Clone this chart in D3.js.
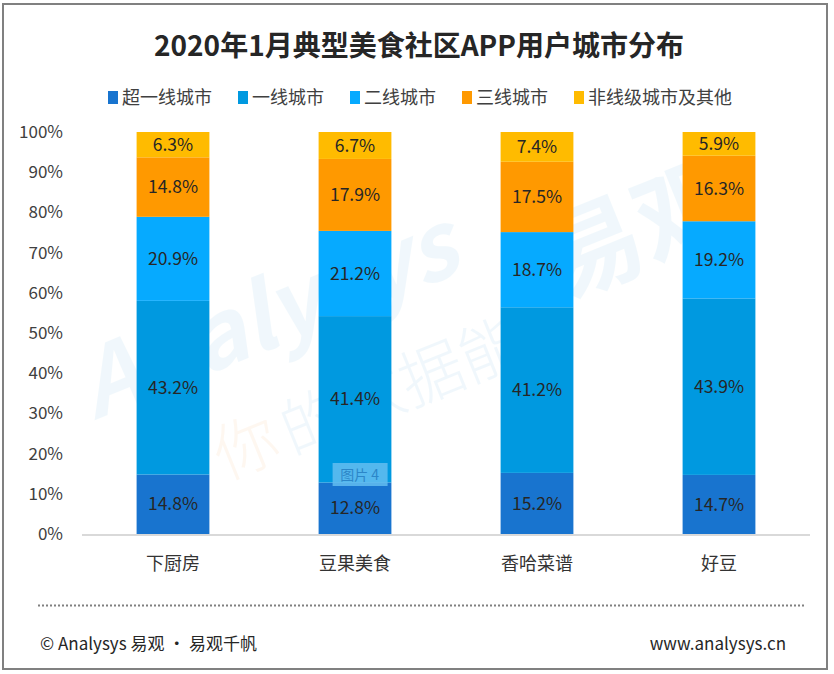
<!DOCTYPE html>
<html><head><meta charset="utf-8">
<script src="https://cdn.jsdelivr.net/npm/d3@7"></script>
<style>body{margin:0;background:#fff}svg{display:block}text{font-family:"Noto Sans CJK SC","Noto Sans",sans-serif}</style>
</head><body>
<svg id="c" width="834" height="674"></svg>
<script>
const title = "2020年1月典型美食社区APP用户城市分布";
const categories = ["下厨房","豆果美食","香哈菜谱","好豆"];
const seriesNames = ["超一线城市","一线城市","二线城市","三线城市","非线级城市及其他"];
const seriesColors = ["#1874cf","#0099e0","#06aaff","#ff9900","#ffbb00"];
const superTier = [14.8,12.8,15.2,14.7];
const tier1 = [43.2,41.4,41.2,43.9];
const tier2 = [20.9,21.2,18.7,19.2];
const tier3 = [14.8,17.9,17.5,16.3];
const others = [6.3,6.7,7.4,5.9];
const yTicks = [0,10,20,30,40,50,60,70,80,90,100];
const footerLeft = "© Analysys 易观 · 易观千帆";
const footerRight = "www.analysys.cn";

const seriesVals = [superTier,tier1,tier2,tier3,others];
const rows = categories.map((c,i)=>{const o={cat:c};seriesNames.forEach((s,j)=>o[s]=seriesVals[j][i]);return o;});
const stacked = d3.stack().keys(seriesNames)(rows);

const svg = d3.select("#c");
// frame
svg.append("rect").attr("x",3).attr("y",4).attr("width",824).attr("height",665)
  .attr("fill","#fff").attr("stroke","#808080").attr("stroke-width",2);

const x = d3.scaleBand().domain(categories).range([82,810]).paddingInner(0.6).paddingOuter(0.3);
const y = d3.scaleLinear().domain([0,100]).range([534,132]);

// title
svg.append("text").attr("x",419).attr("y",56).attr("text-anchor","middle")
  .attr("font-size",28).attr("font-weight","bold").attr("fill","#262626").text(title);

// legend
const lg = svg.append("g");
let lx = 108;
seriesNames.forEach((s,i)=>{
  lg.append("rect").attr("x",lx).attr("y",91).attr("width",10).attr("height",13).attr("fill",seriesColors[i]);
  const t = lg.append("text").attr("x",lx+14).attr("y",104).attr("font-size",18).attr("fill","#404040").text(s);
  lx += 14 + t.node().getComputedTextLength() + 26;
});

// watermark
const wm = svg.append("g").attr("pointer-events","none");
wm.append("text").attr("transform","translate(95,420) rotate(-22)")
  .attr("font-size",92).attr("font-weight","bold").attr("font-style","italic")
  .attr("fill","#3aa0dc").attr("opacity",0.07).text("Analysys");
wm.append("text").attr("transform","translate(560,300) rotate(-22)")
  .attr("font-size",100).attr("font-weight","bold")
  .attr("fill","#3aa0dc").attr("opacity",0.07).text("易观");
wm.append("text").attr("transform","translate(225,480) rotate(-22)")
  .attr("font-size",64).attr("font-weight",300)
  .attr("fill","#f5a04a").attr("opacity",0.08).text("你");
wm.append("text").attr("transform","translate(292,455) rotate(-22)")
  .attr("font-size",64).attr("font-weight",300)
  .attr("fill","#3aa0dc").attr("opacity",0.07).text("的数据能");

// y tick labels
svg.append("g").selectAll("text").data(yTicks).join("text")
  .attr("x",63).attr("y",d=>y(d)).attr("dy","0.35em").attr("text-anchor","end")
  .attr("font-size",17).attr("fill","#404040").text(d=>d+"%");

// bars
const g = svg.append("g");
stacked.forEach((layer,i)=>{
  g.append("g").selectAll("rect").data(layer).join("rect")
    .attr("x",d=>x(d.data.cat)).attr("width",x.bandwidth())
    .attr("y",d=>y(d[1])).attr("height",d=>y(d[0])-y(d[1]))
    .attr("fill",seriesColors[i]);
});
// axis line
svg.append("line").attr("x1",82).attr("x2",810).attr("y1",y(0)+1).attr("y2",y(0)+1)
  .attr("stroke","#d9d9d9").attr("stroke-width",2);

// value labels
stacked.forEach((layer,i)=>{
  g.append("g").selectAll("text").data(layer).join("text")
    .attr("x",d=>x(d.data.cat)+x.bandwidth()/2).attr("y",d=>y((d[0]+d[1])/2))
    .attr("dy","0.35em").attr("text-anchor","middle").attr("font-size",17.5).attr("fill","#262626")
    .text(d=>(d[1]-d[0]).toFixed(1)+"%");
});

// overlay "图片 4"
const ov = svg.append("g");
ov.append("rect").attr("x",x(categories[1])+14).attr("y",463).attr("width",55).attr("height",23)
  .attr("fill","#63bdf0").attr("opacity",0.85);
ov.append("text").attr("x",x(categories[1])+41).attr("y",475).attr("dy","0.35em").attr("text-anchor","middle")
  .attr("font-size",14).attr("fill","#2c86c8").text("图片 4");

// category labels
svg.append("g").selectAll("text").data(categories).join("text")
  .attr("x",d=>x(d)+x.bandwidth()/2).attr("y",564).attr("dy","0.35em").attr("text-anchor","middle")
  .attr("font-size",18).attr("fill","#333").text(d=>d);

// footer
svg.append("line").attr("x1",38).attr("x2",805).attr("y1",605.5).attr("y2",605.5)
  .attr("stroke","#808080").attr("stroke-width",2).attr("stroke-dasharray","2,2");
svg.append("text").attr("x",40).attr("y",644).attr("dy","0.35em").attr("font-size",17)
  .attr("fill","#262626").text(footerLeft);
svg.append("text").attr("x",786).attr("y",644).attr("dy","0.35em").attr("text-anchor","end").attr("font-size",17)
  .attr("fill","#262626").text(footerRight);
</script>
</body></html>
